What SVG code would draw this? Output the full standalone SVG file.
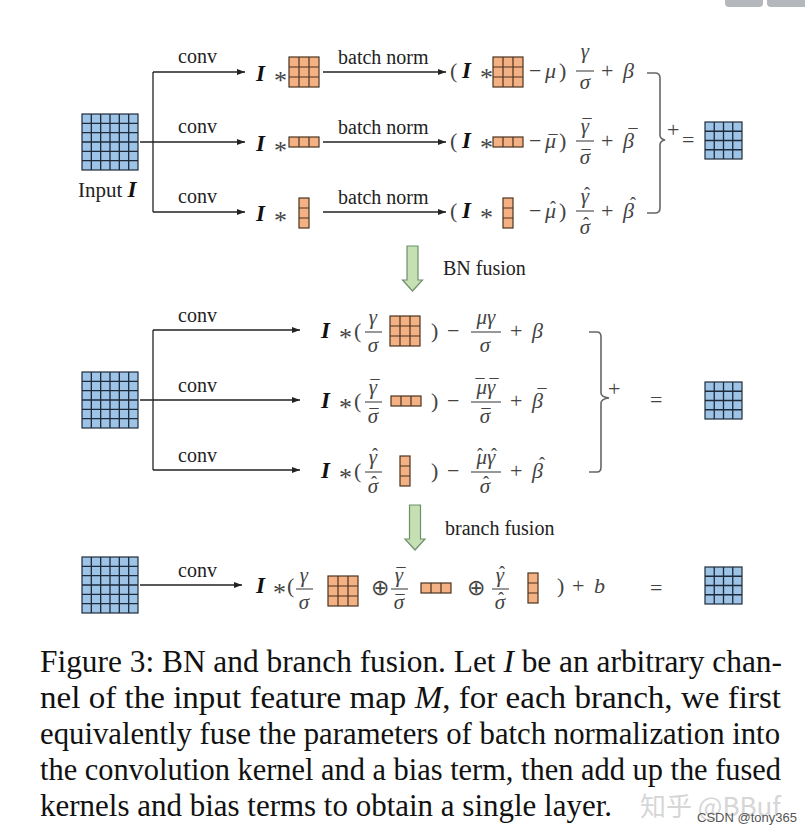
<svg xmlns="http://www.w3.org/2000/svg" xmlns:xlink="http://www.w3.org/1999/xlink" width="805" height="835" viewBox="0 0 805 835">
<style>
  .t { font-family: "Liberation Serif", "Times New Roman", serif; fill: #222; }
  .lbl { font-size: 20px; }
  .I { font-family: "Liberation Serif", "Times New Roman", serif; font-weight: bold; font-style: italic; font-size: 23px; fill: #111; }
  .m { font-family: "Liberation Serif", "Times New Roman", serif; font-size: 22px; fill: #444; }
  .ast { font-family: "Liberation Serif", "Times New Roman", serif; font-size: 26px; fill: #444; }
  .g { font-family: "Liberation Serif", "Times New Roman", serif; font-style: italic; font-size: 22px; fill: #444; }
  .f { font-family: "Liberation Serif", "Times New Roman", serif; font-style: italic; font-size: 21px; fill: #444; text-anchor: middle; }
  .acc { font-family: "Liberation Serif", "Times New Roman", serif; font-size: 18px; fill: #444; text-anchor: middle; }
  .mid { text-anchor: middle; }
  .conn { stroke: #222; stroke-width: 1.3; fill: none; }
  .bar { stroke: #444; stroke-width: 1.1; }
  .brace { stroke: #666; stroke-width: 1.6; fill: none; }
  .cap { font-family: "Liberation Serif", "Times New Roman", serif; font-size: 32px; fill: #111; }
  .green { fill: #c5e0b3; stroke: #6f8f6a; stroke-width: 1.2; }
</style>
<defs>
  <marker id="ah" markerWidth="8" markerHeight="6" refX="8" refY="3" orient="auto" markerUnits="userSpaceOnUse">
    <path d="M0,0 L8,3 L0,6 Z" fill="#222"/>
  </marker>
  <g id="blue6">
    <rect x="0" y="0" width="56" height="56" fill="#9dc3e6" stroke="#1e2a3a" stroke-width="1.2"/>
    <path d="M9.33,0V56M18.67,0V56M28,0V56M37.33,0V56M46.67,0V56M0,9.33H56M0,18.67H56M0,28H56M0,37.33H56M0,46.67H56" stroke="#1e2a3a" stroke-width="1.3"/>
  </g>
  <g id="blue4">
    <rect x="0" y="0" width="37" height="37" fill="#9dc3e6" stroke="#1e2a3a" stroke-width="1.2"/>
    <path d="M9.25,0V37M18.5,0V37M27.75,0V37M0,9.25H37M0,18.5H37M0,27.75H37" stroke="#1e2a3a" stroke-width="1.3"/>
  </g>
  <g id="k33">
    <rect x="0" y="0" width="30" height="30" fill="#f4b183" stroke="#4a3220" stroke-width="1.2"/>
    <path d="M10,0V30M20,0V30M0,10H30M0,20H30" stroke="#4a3220" stroke-width="1.2"/>
  </g>
  <g id="k13">
    <rect x="0" y="0" width="30" height="10" fill="#f4b183" stroke="#4a3220" stroke-width="1.2"/>
    <path d="M10,0V10M20,0V10" stroke="#4a3220" stroke-width="1.2"/>
  </g>
  <g id="k31">
    <rect x="0" y="0" width="10" height="30" fill="#f4b183" stroke="#4a3220" stroke-width="1.2"/>
    <path d="M0,10H10M0,20H10" stroke="#4a3220" stroke-width="1.2"/>
  </g>
  <path id="garrow" d="M-5.5,0 H5.5 V34 H10 L0,45 L-10,34 H-5.5 Z"/>
</defs>

<rect x="0" y="0" width="805" height="835" fill="#ffffff"/>
<rect x="725" y="-6" width="38" height="13" rx="4" fill="#b4b8bc"/>
<rect x="767" y="-6" width="40" height="13" rx="4" fill="#b4b8bc"/>

<!-- ================= connectors ================= -->
<g id="connectors">
  <path class="conn" d="M140,142 H245" marker-end="url(#ah)"/>
  <path class="conn" d="M153,72 V212"/>
  <path class="conn" d="M153,72 H245" marker-end="url(#ah)"/>
  <path class="conn" d="M153,212 H245" marker-end="url(#ah)"/>
  <path class="conn" d="M323,72 H446" marker-end="url(#ah)"/>
  <path class="conn" d="M323,142 H446" marker-end="url(#ah)"/>
  <path class="conn" d="M323,212 H446" marker-end="url(#ah)"/>
  <path class="conn" d="M140,400 H300" marker-end="url(#ah)"/>
  <path class="conn" d="M153,330 V470"/>
  <path class="conn" d="M153,330 H300" marker-end="url(#ah)"/>
  <path class="conn" d="M153,470 H300" marker-end="url(#ah)"/>
  <path class="conn" d="M140,585 H242" marker-end="url(#ah)"/>
  <use href="#garrow" class="green" transform="translate(412.5,246)"/>
  <use href="#garrow" class="green" transform="translate(415,505)"/>
</g>

<!-- ================= top section ================= -->
<g id="input-top">
  <use href="#blue6" x="82" y="114"/>
  <text class="t" x="78" y="197" font-size="21">Input <tspan class="I" font-size="23">I</tspan></text>
</g>
<g id="conv-labels-top">
  <text class="t lbl" x="178" y="63">conv</text>
  <text class="t lbl" x="178" y="133">conv</text>
  <text class="t lbl" x="178" y="203">conv</text>
</g>
<g id="kernels-top">
  <text class="I" x="256" y="81">I</text><text class="ast" x="274" y="89">*</text>
  <use href="#k33" x="289" y="57"/>
  <text class="I" x="256" y="151">I</text><text class="ast" x="274" y="159">*</text>
  <use href="#k13" x="289" y="137"/>
  <text class="I" x="256" y="221">I</text><text class="ast" x="274" y="229">*</text>
  <use href="#k31" x="299" y="198"/>
</g>
<g id="bn-labels">
  <text class="t lbl" x="338" y="64">batch norm</text>
  <text class="t lbl" x="338" y="134">batch norm</text>
  <text class="t lbl" x="338" y="204">batch norm</text>
</g>
<g id="bn-formula-1">
  <text class="m" x="450" y="78">(</text>
  <text class="I" x="462" y="78">I</text>
  <text class="ast" x="480" y="86">*</text>
  <use href="#k33" x="493" y="57"/>
  <text class="m" x="529" y="78">−</text>
  <text class="g" x="545" y="78">μ</text>
  <text class="m" x="559" y="78">)</text>
  <text class="f" x="585" y="58">γ</text>
  <line class="bar" x1="576" y1="71" x2="594" y2="71"/>
  <text class="f" x="585" y="89">σ</text>
  <text class="m" x="601" y="78">+</text>
  <text class="g" x="623" y="78">β</text>
</g>
<g id="bn-formula-2">
  <text class="m" x="450" y="148">(</text>
  <text class="I" x="462" y="148">I</text>
  <text class="ast" x="480" y="156">*</text>
  <use href="#k13" x="493" y="137"/>
  <text class="m" x="529" y="148">−</text>
  <text class="g" x="545" y="148">μ</text>
  <text class="acc" x="553" y="148">¯</text>
  <text class="m" x="559" y="148">)</text>
  <text class="f" x="585" y="133">γ</text>
  <text class="acc" x="587" y="132">¯</text>
  <line class="bar" x1="576" y1="141" x2="594" y2="141"/>
  <text class="f" x="585" y="164">σ</text>
  <text class="acc" x="586" y="163">¯</text>
  <text class="m" x="601" y="148">+</text>
  <text class="g" x="623" y="148">β</text>
  <text class="acc" x="633" y="142">¯</text>
</g>
<g id="bn-formula-3">
  <text class="m" x="450" y="218">(</text>
  <text class="I" x="462" y="218">I</text>
  <text class="ast" x="480" y="226">*</text>
  <use href="#k31" x="503" y="198"/>
  <text class="m" x="529" y="218">−</text>
  <text class="g" x="545" y="218">μ</text>
  <text class="acc" x="553" y="214">ˆ</text>
  <text class="m" x="559" y="218">)</text>
  <text class="f" x="585" y="203">γ</text>
  <text class="acc" x="587" y="200">ˆ</text>
  <line class="bar" x1="576" y1="211" x2="594" y2="211"/>
  <text class="f" x="585" y="234">σ</text>
  <text class="acc" x="586" y="230">ˆ</text>
  <text class="m" x="601" y="218">+</text>
  <text class="g" x="623" y="218">β</text>
  <text class="acc" x="633" y="210">ˆ</text>
</g>
<g id="sum-top">
  <path class="brace" d="M647,73 H655 Q660,73 660,78 V135 Q660,139 665,140 Q660,141 660,145 V208 Q660,213 655,213 H647"/>
  <text class="m" x="667" y="137" font-size="20">+</text>
  <text class="m" x="682" y="147">=</text>
  <use href="#blue4" x="705" y="122"/>
</g>
<g id="bn-fusion-label">
  <text class="t lbl" x="443" y="275">BN fusion</text>
</g>

<!-- ================= middle section ================= -->
<g id="input-mid">
  <use href="#blue6" x="82" y="372"/>
</g>
<g id="conv-labels-mid">
  <text class="t lbl" x="178" y="322">conv</text>
  <text class="t lbl" x="178" y="392">conv</text>
  <text class="t lbl" x="178" y="462">conv</text>
</g>
<g id="fused-formula-1">
  <text class="I" x="321" y="338">I</text>
  <text class="ast" x="339" y="346">*</text>
  <text class="m" x="354" y="338">(</text>
  <text class="f" x="373" y="324">γ</text>
  <line class="bar" x1="365" y1="332" x2="382" y2="332"/>
  <text class="f" x="373" y="352">σ</text>
  <use href="#k33" x="390" y="316"/>
  <text class="m" x="431" y="338">)</text>
  <text class="m" x="447" y="338">−</text>
  <text class="f" x="486" y="324">μγ</text>
  <line class="bar" x1="471" y1="332" x2="501" y2="332"/>
  <text class="f" x="485" y="352">σ</text>
  <text class="m" x="510" y="338">+</text>
  <text class="g" x="532" y="338">β</text>
</g>
<g id="fused-formula-2">
  <text class="I" x="321" y="408">I</text>
  <text class="ast" x="339" y="416">*</text>
  <text class="m" x="354" y="408">(</text>
  <text class="f" x="373" y="394">γ</text>
  <text class="acc" x="375" y="393">¯</text>
  <line class="bar" x1="365" y1="402" x2="382" y2="402"/>
  <text class="f" x="373" y="423">σ</text>
  <text class="acc" x="374" y="422">¯</text>
  <use href="#k13" x="391" y="396"/>
  <text class="m" x="431" y="408">)</text>
  <text class="m" x="447" y="408">−</text>
  <text class="f" x="486" y="394">μγ</text>
  <text class="acc" x="480" y="392">¯</text>
  <text class="acc" x="494" y="392">¯</text>
  <line class="bar" x1="471" y1="402" x2="501" y2="402"/>
  <text class="f" x="485" y="423">σ</text>
  <text class="acc" x="486" y="422">¯</text>
  <text class="m" x="510" y="408">+</text>
  <text class="g" x="532" y="408">β</text>
  <text class="acc" x="542" y="402">¯</text>
</g>
<g id="fused-formula-3">
  <text class="I" x="321" y="478">I</text>
  <text class="ast" x="339" y="486">*</text>
  <text class="m" x="354" y="478">(</text>
  <text class="f" x="373" y="464">γ</text>
  <text class="acc" x="375" y="461">ˆ</text>
  <line class="bar" x1="365" y1="472" x2="382" y2="472"/>
  <text class="f" x="373" y="493">σ</text>
  <text class="acc" x="374" y="489">ˆ</text>
  <use href="#k31" x="400" y="456"/>
  <text class="m" x="431" y="478">)</text>
  <text class="m" x="447" y="478">−</text>
  <text class="f" x="486" y="464">μγ</text>
  <text class="acc" x="480" y="461">ˆ</text>
  <text class="acc" x="494" y="461">ˆ</text>
  <line class="bar" x1="471" y1="472" x2="501" y2="472"/>
  <text class="f" x="485" y="493">σ</text>
  <text class="acc" x="486" y="489">ˆ</text>
  <text class="m" x="510" y="478">+</text>
  <text class="g" x="532" y="478">β</text>
  <text class="acc" x="542" y="470">ˆ</text>
</g>
<g id="sum-mid">
  <path class="brace" d="M589,332 H597 Q601,332 601,337 V393 Q601,397 609,398 Q601,399 601,403 V467 Q601,472 597,472 H589"/>
  <text class="m" x="608" y="396" font-size="20">+</text>
  <text class="m" x="650" y="407">=</text>
  <use href="#blue4" x="705" y="382"/>
</g>
<g id="branch-fusion-label">
  <text class="t lbl" x="445" y="535">branch fusion</text>
</g>

<!-- ================= bottom section ================= -->
<g id="input-bottom">
  <use href="#blue6" x="82" y="557"/>
  <text class="t lbl" x="178" y="577">conv</text>
</g>
<g id="final-formula">
  <text class="I" x="256" y="593">I</text>
  <text class="ast" x="273" y="601">*</text>
  <text class="m" x="287" y="593">(</text>
  <text class="f" x="304" y="582">γ</text>
  <line class="bar" x1="296" y1="589" x2="313" y2="589"/>
  <text class="f" x="304" y="609">σ</text>
  <use href="#k33" x="328" y="576"/>
  <text class="m mid" x="380" y="595">⊕</text>
  <text class="f" x="399" y="582">γ</text>
  <text class="acc" x="401" y="581">¯</text>
  <line class="bar" x1="391" y1="589" x2="408" y2="589"/>
  <text class="f" x="399" y="609">σ</text>
  <text class="acc" x="400" y="608">¯</text>
  <use href="#k13" x="421" y="583"/>
  <text class="m mid" x="476" y="595">⊕</text>
  <text class="f" x="500" y="582">γ</text>
  <text class="acc" x="502" y="579">ˆ</text>
  <line class="bar" x1="492" y1="589" x2="509" y2="589"/>
  <text class="f" x="500" y="609">σ</text>
  <text class="acc" x="501" y="605">ˆ</text>
  <use href="#k31" x="528" y="573"/>
  <text class="m" x="557" y="593">)</text>
  <text class="m" x="572" y="593">+</text>
  <text class="g" x="594" y="593">b</text>
</g>
<g id="result-bottom">
  <text class="m" x="650" y="595">=</text>
  <use href="#blue4" x="705" y="567"/>
</g>

<!-- ================= caption ================= -->
<g id="caption">
  <text class="cap" x="40" y="672" textLength="742" lengthAdjust="spacingAndGlyphs">Figure 3: BN and branch fusion. Let <tspan font-style="italic">I</tspan> be an arbitrary chan-</text>
  <text class="cap" x="40" y="708" textLength="741" lengthAdjust="spacingAndGlyphs">nel of the input feature map <tspan font-style="italic">M</tspan>, for each branch, we first</text>
  <text class="cap" x="40" y="744" textLength="740" lengthAdjust="spacingAndGlyphs">equivalently fuse the parameters of batch normalization into</text>
  <text class="cap" x="40" y="780" textLength="741" lengthAdjust="spacingAndGlyphs">the convolution kernel and a bias term, then add up the fused</text>
  <text class="cap" x="40" y="816" textLength="572" lengthAdjust="spacingAndGlyphs">kernels and bias terms to obtain a single layer.</text>
</g>
<g id="watermark">
  <text x="640" y="816" font-family="'Noto Sans CJK SC', 'Liberation Sans', sans-serif" font-size="26" fill="#d6d6d6">知乎 @BBuf</text>
  <text x="697" y="822" font-family="'Liberation Sans', sans-serif" font-size="13" fill="#555">CSDN @tony365</text>
</g>
</svg>
